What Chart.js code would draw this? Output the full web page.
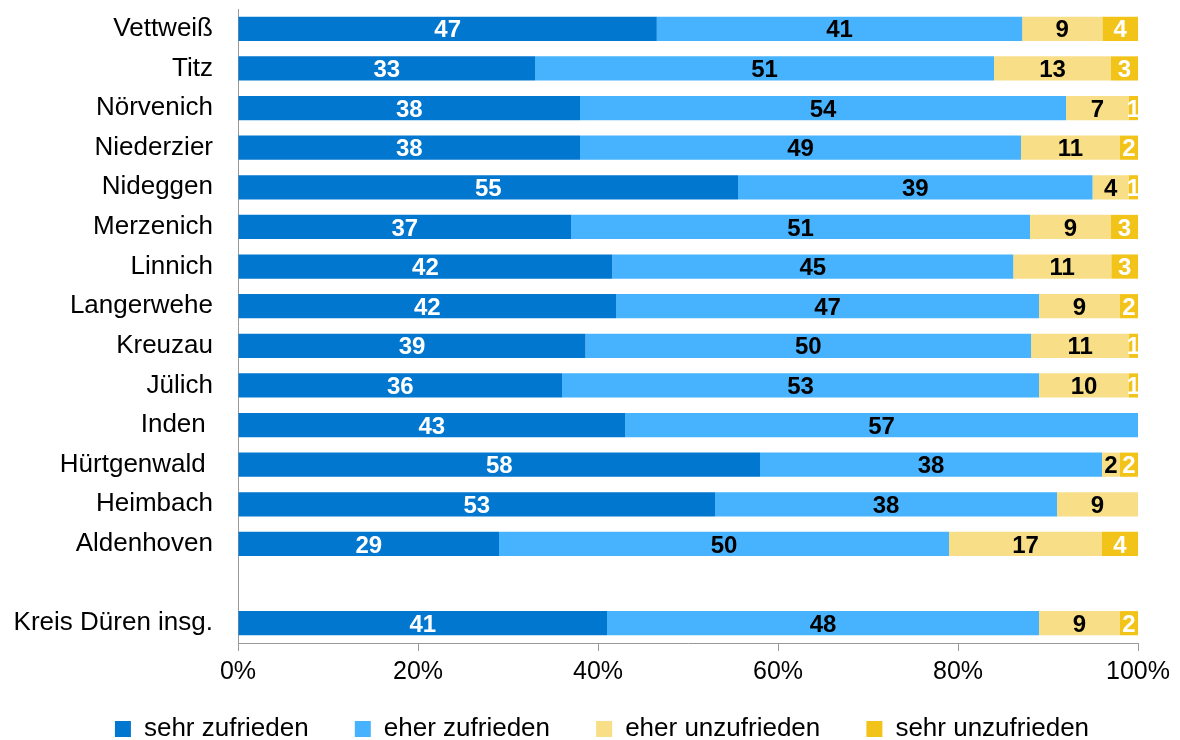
<!DOCTYPE html>
<html>
<head>
<meta charset="utf-8">
<script src="https://cdn.jsdelivr.net/npm/chart.js@4"></script>
<style>
  html, body { margin: 0; padding: 0; background: #fff; }
  #wrap { width: 1180px; height: 740px; }
</style>
</head>
<body>
<div id="wrap"><canvas id="chart" width="1180" height="740"></canvas></div>
<script>
// categories (top to bottom), blank row before the total
const categories = [
    'Vettweiß', 'Titz', 'Nörvenich', 'Niederzier', 'Nideggen', 'Merzenich',
    'Linnich', 'Langerwehe', 'Kreuzau', 'Jülich', 'Inden ', 'Hürtgenwald ',
    'Heimbach', 'Aldenhoven', '', 'Kreis Düren insg.'
];

const sehrZufrieden   = [47, 33, 38, 38, 55, 37, 42, 42, 39, 36, 43, 58, 53, 29, null, 41];
const eherZufrieden   = [41, 51, 54, 49, 39, 51, 45, 47, 50, 53, 57, 38, 38, 50, null, 48];
const eherUnzufrieden = [9, 13, 7, 11, 4, 9, 11, 9, 11, 10, 0, 2, 9, 17, null, 9];
const sehrUnzufrieden = [4, 3, 1, 2, 1, 3, 3, 2, 1, 1, 0, 2, 0, 4, null, 2];

const xTicks = ['0%', '20%', '40%', '60%', '80%', '100%'];

const seriesNames = ['sehr zufrieden', 'eher zufrieden', 'eher unzufrieden', 'sehr unzufrieden'];
const seriesColors = ['#0277CF', '#47B3FF', '#F8DE87', '#F2C318'];
const labelColors = ['#ffffff', '#000000', '#000000', '#ffffff'];
const raw = [sehrZufrieden, eherZufrieden, eherUnzufrieden, sehrUnzufrieden];

// 100% stacking: each row scaled to its own total
const totals = categories.map((c, i) => raw.reduce((s, arr) => s + (arr[i] || 0), 0));
const normalized = raw.map(arr => arr.map((v, i) => v == null ? null : v / totals[i] * 100));

// value labels inside the segments
const segmentLabels = {
    id: 'segmentLabels',
    afterDatasetsDraw(chart) {
        const ctx = chart.ctx;
        ctx.save();
        ctx.font = 'bold 24px "Liberation Sans", Arial, sans-serif';
        ctx.textAlign = 'center';
        ctx.textBaseline = 'middle';
        chart.data.datasets.forEach((ds, di) => {
            const meta = chart.getDatasetMeta(di);
            meta.data.forEach((bar, i) => {
                const v = raw[di][i];
                if (!v) return;
                ctx.fillStyle = labelColors[di];
                ctx.fillText(String(v), (bar.x + bar.base) / 2, bar.y + 2);
            });
        });
        ctx.restore();
    }
};

Chart.defaults.font.family = '"Liberation Sans", Arial, sans-serif';
Chart.defaults.color = '#000';

new Chart(document.getElementById('chart'), {
    type: 'bar',
    data: {
        labels: categories,
        datasets: seriesNames.map((name, i) => ({
            label: name,
            data: normalized[i],
            backgroundColor: seriesColors[i],
            borderWidth: 0,
            categoryPercentage: 1,
            barPercentage: 0.61
        }))
    },
    options: {
        indexAxis: 'y',
        responsive: false,
        animation: false,
        layout: {
            padding: { top: 9, right: -24, left: 0, bottom: -12 }
        },
        scales: {
            x: {
                stacked: true,
                min: 0,
                max: 100,
                ticks: {
                    stepSize: 20,
                    padding: 6,
                    font: { size: 25 },
                    callback: (v, i) => xTicks[i]
                },
                grid: {
                    drawOnChartArea: false,
                    drawTicks: true,
                    tickLength: 8,
                    color: '#999'
                },
                border: { display: true, color: '#999' },
                afterFit: scale => {
                    scale.height = 63;
                    scale.paddingRight = 42;
                }
            },
            y: {
                stacked: true,
                ticks: {
                    padding: 17,
                    font: { size: 26 }
                },
                grid: { display: false },
                border: { display: true, color: '#999' },
                afterFit: scale => {
                    scale.width = 238;
                    scale.paddingTop = 0;
                    scale.paddingBottom = 0;
                }
            }
        },
        plugins: {
            tooltip: { enabled: false },
            legend: {
                position: 'bottom',
                labels: {
                    boxWidth: 16,
                    boxHeight: 16,
                    padding: 10,
                    font: { size: 26 },
                    generateLabels: chart => chart.data.datasets.map((ds, i) => ({
                        text: ds.label + (i < 3 ? '     ' : ''),
                        fillStyle: ds.backgroundColor,
                        strokeStyle: ds.backgroundColor,
                        lineWidth: 0,
                        datasetIndex: i
                    }))
                }
            }
        }
    },
    plugins: [segmentLabels]
});
</script>
</body>
</html>
